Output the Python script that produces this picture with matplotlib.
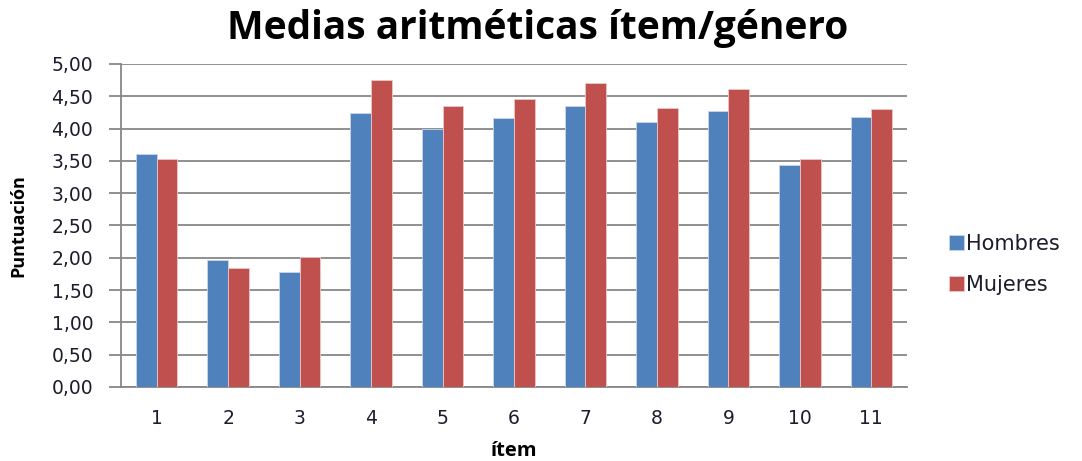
import matplotlib
matplotlib.use("Agg")
import matplotlib.pyplot as plt
import numpy as np
from matplotlib.ticker import FuncFormatter

# Mean score per item, split by gender
items = ["1", "2", "3", "4", "5", "6", "7", "8", "9", "10", "11"]
hombres = [3.60, 1.96, 1.78, 4.24, 3.99, 4.16, 4.35, 4.10, 4.28, 3.44, 4.18]
mujeres = [3.53, 1.84, 2.02, 4.76, 4.35, 4.46, 4.70, 4.32, 4.61, 3.53, 4.30]
series_names = ["Hombres", "Mujeres"]

blue = "#4F81BD"
red = "#C0504D"
grid_gray = "#878787"
text_dark = "#1c1c2c"
head_font = "Open Sans"

fig = plt.figure(figsize=(10.82, 4.61), dpi=100)
ax = fig.add_axes([121 / 1082, 1 - 387 / 461, (907 - 121) / 1082, (387 - 64) / 461])

x = np.arange(len(items))
w = 0.29
ax.bar(x - w / 2, hombres, width=w, color=blue, edgecolor="#c9d6ea",
       linewidth=0.6, label=series_names[0], zorder=3)
ax.bar(x + w / 2, mujeres, width=w, color=red, edgecolor="#ecc8c7",
       linewidth=0.6, label=series_names[1], zorder=3)

ax.set_xlim(-0.5, len(items) - 0.5)
ax.set_ylim(0, 5)
ax.set_yticks(np.arange(0, 5.01, 0.5))
ax.yaxis.set_major_formatter(FuncFormatter(lambda v, p: f"{v:.2f}".replace(".", ",")))
ax.set_xticks(x)
ax.set_xticklabels(items)

ax.grid(axis="y", color=grid_gray, linewidth=1.3, zorder=0)
ax.set_axisbelow(True)
for s in ["top", "right"]:
    ax.spines[s].set_visible(False)
for s in ["left", "bottom"]:
    ax.spines[s].set_color(grid_gray)
    ax.spines[s].set_linewidth(1.3)

ax.tick_params(axis="y", length=9, width=1.3, color=grid_gray, pad=11,
               labelsize=13.5, labelcolor=text_dark)
ax.tick_params(axis="x", length=0, pad=16, labelsize=13.5, labelcolor=text_dark)
for lbl in ax.get_yticklabels() + ax.get_xticklabels():
    lbl.set_family("DejaVu Sans")

ax.set_ylabel("Puntuación", fontsize=13, fontweight="bold", family=head_font,
              va="center")
ax.yaxis.set_label_coords(-0.130, 0.5)
ax.set_xlabel("ítem", fontsize=14.5, fontweight="bold", family=head_font,
              va="center")
ax.xaxis.set_label_coords(0.5, -0.198)

fig.text(538 / 1082, 1 - 28 / 461, "Medias aritméticas ítem/género", ha="center",
         va="center", fontsize=28, fontweight="bold", family=head_font, color="black")

leg = ax.legend(loc="center left", bbox_to_anchor=(1.03, 0.38), frameon=False,
                handlelength=0.7, handleheight=0.7, handletextpad=0.1,
                labelspacing=1.0, prop={"family": "DejaVu Sans", "size": 15})
for t in leg.get_texts():
    t.set_color(text_dark)

fig.savefig("out.png", dpi=100, facecolor="white")
